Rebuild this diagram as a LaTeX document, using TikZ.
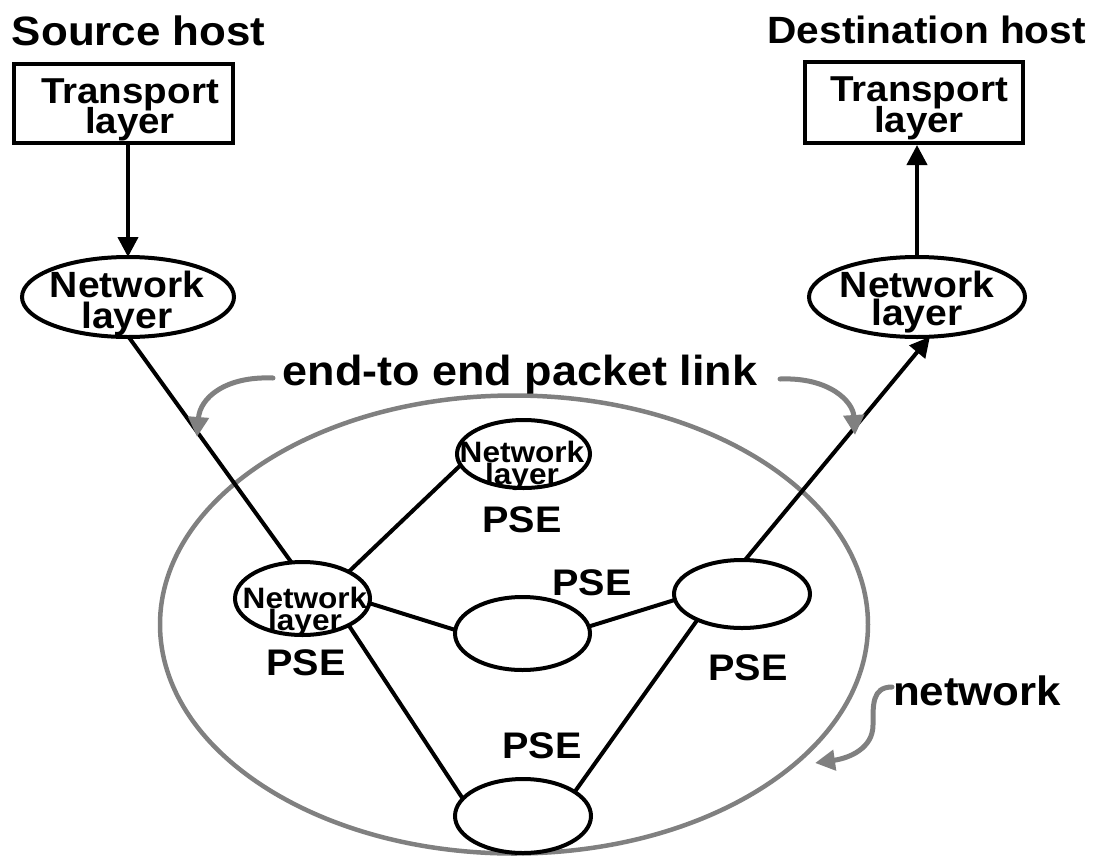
\documentclass[tikz,border=0pt]{standalone}
\usepackage{fontspec}
\setmainfont[FakeStretch=1.07]{Liberation Sans}
\usetikzlibrary{arrows.meta,shapes.geometric}
\definecolor{linkgray}{gray}{0.5}
% two centred lines whose reference point is the first baseline
\newcommand\stacktwo[3]{\vtop{\baselineskip=#3\lineskiplimit=-\maxdimen
  \halign{\hfil##\hfil\cr#1\cr#2\cr}}}
\tikzset{
  txt/.style={inner sep=0pt, outer sep=0pt, anchor=base,
    font=\bfseries\fontsize{#1}{#1}\selectfont},
  hostbox/.style={draw, line width=4pt, rectangle, inner sep=0pt},
  layerell/.style={draw, line width=4pt, ellipse, inner sep=0pt, outer sep=0pt},
  netell/.style={draw=linkgray, line width=4.5pt, ellipse, inner sep=0pt},
  link/.style={line width=4pt},
  arr/.style={-{Triangle[length=20pt,width=20pt]}},
  garr/.style={draw=linkgray, line width=5pt, line cap=round,
    -{Triangle[length=20pt,width=20pt,fill=linkgray]}},
}
\begin{document}
\begin{tikzpicture}[x=1pt,y=-1pt]
\useasboundingbox (0,0) rectangle (1096,863);

% the network cloud
\node[netell, minimum width=708pt, minimum height=458pt] (net) at (514,624.5) {};

% hosts
\node[txt=41, anchor=base west] (srcHost) at (12,45) {Source host};
\node[txt=38, anchor=base east] (dstHost) at (1086,43) {Destination host};

\node[hostbox, minimum width=219pt, minimum height=79pt] (srcT) at (123.5,103.5) {};
\node[hostbox, minimum width=218pt, minimum height=81pt] (dstT) at (914,102.5) {};
\node[txt=36] (srcTtext) at (130,103) {\stacktwo{Transport}{layer}{30pt}};
\node[txt=36] (dstTtext) at (919,101) {\stacktwo{Transport}{layer}{31pt}};

\node[layerell, minimum width=212pt, minimum height=80pt] (srcN) at (128,297) {};
\node[layerell, minimum width=216pt, minimum height=80pt] (dstN) at (917,297) {};
\node[txt=36.5] (srcNtext) at (127,297) {\stacktwo{Network}{layer}{31pt}};
\node[txt=36.5] (dstNtext) at (917,297) {\stacktwo{Network}{layer}{28pt}};

% packet switching exchanges
\node[layerell, minimum width=133pt, minimum height=68pt] (pseTop) at (523.5,454) {};
\node[layerell, minimum width=135pt, minimum height=73pt] (pseLeft) at (302.5,598.5) {};
\node[layerell, minimum width=135pt, minimum height=73pt] (pseMid) at (522.5,633.5) {};
\node[layerell, minimum width=136pt, minimum height=68pt] (pseRight) at (742,594) {};
\node[layerell, minimum width=136pt, minimum height=74pt] (pseBot) at (523,816) {};

\node[txt=29.5] (pseTopText) at (522,462) {\stacktwo{Network}{layer}{22pt}};
\node[txt=29.5] (pseLeftText) at (305,608) {\stacktwo{Network}{layer}{22pt}};

\node[txt=37] (pseTopLbl) at (522,532) {PSE};
\node[txt=37] (pseLeftLbl) at (306,675) {PSE};
\node[txt=37] (pseMidLbl) at (592,595) {PSE};
\node[txt=37] (pseRightLbl) at (748,680) {PSE};
\node[txt=37] (pseBotLbl) at (542,758) {PSE};

% links
\draw[link] (srcN.-89) -- (pseLeft.107);
\draw[link] (pseLeft.30) -- (pseTop.190);
\draw[link] (pseLeft.-4) -- (pseMid.177);
\draw[link] (pseLeft.-30) -- (pseBot.164);
\draw[link] (pseMid.6) -- (pseRight.185);
\draw[link] (pseRight.210) -- (pseBot.25);
\draw[link,arr] (pseRight.85) -- (dstN.-72);
\draw[link,arr] (srcT.south -| srcN.north) -- (srcN.north);
\draw[link,arr] (dstN.north) -- (dstT.south -| dstN.north);

% annotations
\node[txt=42] (e2e) at (520,385) {end-to end packet link};
\node[txt=41, anchor=base west] (netLbl) at (893,705) {network};

\coordinate (e2eL) at (273,378);
\coordinate (e2eLtip) at (197,437);
\coordinate (e2eR) at (780,379);
\coordinate (e2eRtip) at (855,435);
\coordinate (netFrom) at (892,687);
\coordinate (netTip) at (815,763);

\draw[garr] (e2eL) .. controls (225,376) and (200,398) .. (e2eLtip);
\draw[garr] (e2eR) .. controls (830,377) and (853,402) .. (e2eRtip);
\draw[garr] (netFrom) .. controls (872,687) and (873,705) .. (873,725)
  .. controls (873,748) and (850,758) .. (netTip);
\end{tikzpicture}
\end{document}
